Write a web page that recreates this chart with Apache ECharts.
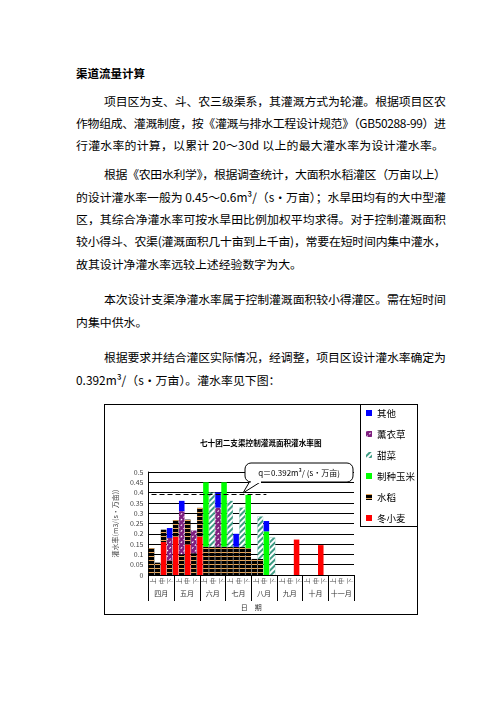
<!DOCTYPE html>
<html>
<head>
<meta charset="utf-8">
<script src="https://cdn.jsdelivr.net/npm/echarts@6/dist/echarts.min.js"></script>
<style>
body { margin: 0; width: 496px; height: 702px; position: relative; overflow: hidden; background: #fff; color: #000;
  font-family: "Noto Sans CJK SC", sans-serif; }
.ln { position: absolute; white-space: nowrap; font-size: 11.9px; line-height: 16px; }
.hd { font-weight: bold; font-size: 11.5px; }
#frame { position: absolute; left: 104px; top: 404px; width: 314px; height: 211px; border: 1px solid #000; box-sizing: border-box; }
#lgbox { position: absolute; left: 360px; top: 404px; width: 58px; height: 123px; border-left: 1px solid #000; border-bottom: 1px solid #000; box-sizing: border-box; }
#chart { position: absolute; left: 104px; top: 404px; width: 314px; height: 211px; }
</style>
</head>
<body>
<div class="ln hd" style="left:76px;top:65px">渠道流量计算</div>
<div class="ln" data-w="342" style="left:104px;top:93px">项目区为支、斗、农三级渠系，其灌溉方式为轮灌。根据项目区农</div>
<div class="ln" data-w="370" style="left:76px;top:115px">作物组成、灌溉制度，按《灌溉与排水工程设计规范》（GB50288-99）进</div>
<div class="ln" data-w="368" style="left:76px;top:137px">行灌水率的计算，以累计 20～30d 以上的最大灌水率为设计灌水率。</div>
<div class="ln" data-w="342" style="left:104px;top:166px">根据《农田水利学》，根据调查统计，大面积水稻灌区（万亩以上）</div>
<div class="ln" data-w="370" style="left:76px;top:189px">的设计灌水率一般为 0.45～0.6m³/（s·万亩）；水旱田均有的大中型灌</div>
<div class="ln" data-w="370" style="left:76px;top:211px">区，其综合净灌水率可按水旱田比例加权平均求得。对于控制灌溉面积</div>
<div class="ln" data-w="370" style="left:76px;top:233px">较小得斗、农渠(灌溉面积几十亩到上千亩)，常要在短时间内集中灌水，</div>
<div class="ln" style="left:76px;top:256px">故其设计净灌水率远较上述经验数字为大。</div>
<div class="ln" data-w="342" style="left:104px;top:291px">本次设计支渠净灌水率属于控制灌溉面积较小得灌区。需在短时间</div>
<div class="ln" style="left:76px;top:314px">内集中供水。</div>
<div class="ln" data-w="342" style="left:104px;top:349px">根据要求并结合灌区实际情况，经调整，项目区设计灌水率确定为</div>
<div class="ln" style="left:76px;top:372px">0.392m³/（s·万亩）。灌水率见下图：</div>

<div id="frame"></div>
<div id="lgbox"></div>
<div id="chart"></div>
<script>
// 两端对齐正文
document.querySelectorAll('.ln[data-w]').forEach(function (el) {
  var w = parseFloat(el.dataset.w);
  var n = el.textContent.length;
  var cur = el.getBoundingClientRect().width;
  el.style.letterSpacing = ((w - cur) / (n - 1)) + 'px';
});

// 横轴：灌水时段（柱位）、旬、月
var months = ['四月', '五月', '六月', '七月', '八月', '九月', '十月', '十一月'];
var xun = ['上', '中', '下'];
var slots = ['1', '2', '3', '4', '5', '6', '7', '8', '9', '10', '11', '12', '13', '14', '15', '16', '17',
  '18', '19', '20', '21', '22', '23', '24', '25', '26', '27', '28', '29', '30', '31', '32', '33', '34'];

// 各作物灌水率 m3/(s·万亩)
var wheat    = [0, 0, 0.16, 0, 0.186, 0, 0.149, 0, 0.186, 0, 0, 0, 0, 0, 0, 0, 0, 0, 0, 0, 0, 0, 0, 0, 0.172, 0, 0, 0, 0.145, 0, 0, 0, 0, 0];
var rice     = [0.13, 0.06, 0.06, 0.07, 0.08, 0.1, 0.12, 0.106, 0.14, 0.137, 0.137, 0.137, 0.137, 0.137, 0.137, 0.137, 0.13, 0.078, 0.078, 0, 0, 0, 0, 0, 0, 0, 0, 0, 0, 0, 0, 0, 0, 0];
var corn     = [0, 0, 0, 0, 0, 0, 0, 0, 0, 0.313, 0, 0, 0.313, 0, 0, 0, 0.259, 0, 0, 0.212, 0, 0, 0, 0, 0, 0, 0, 0, 0, 0, 0, 0, 0, 0];
var beet     = [0, 0, 0, 0, 0, 0, 0, 0, 0, 0, 0.263, 0, 0, 0.223, 0, 0.19, 0, 0, 0.206, 0, 0.182, 0, 0, 0, 0, 0, 0, 0, 0, 0, 0, 0, 0, 0];
var lavender = [0, 0, 0, 0.11, 0, 0.21, 0, 0.11, 0, 0, 0, 0.19, 0, 0, 0, 0, 0, 0, 0, 0, 0, 0, 0, 0, 0, 0, 0, 0, 0, 0, 0, 0, 0, 0];
var other    = [0, 0, 0, 0.048, 0, 0.05, 0, 0, 0, 0, 0, 0.074, 0, 0, 0.063, 0, 0, 0, 0, 0.05, 0, 0, 0, 0, 0, 0, 0, 0, 0, 0, 0, 0, 0, 0];
var designQ = 0.392;

var xunLabels = [];
months.forEach(function () { xun.forEach(function (x) { xunLabels.push(x); }); });

var font = '"Noto Sans CJK SC", sans-serif';

function bar(name, data, color, decal) {
  return {
    name: name, type: 'bar', stack: 'q', data: data, barCategoryGap: '8%',
    itemStyle: { color: color, decal: decal },
    emphasis: { disabled: true }
  };
}

var myChart = echarts.init(document.getElementById('chart'));
var option = {
  animation: false,
  textStyle: { fontFamily: font },
  title: {
    text: '七十团二支渠控制灌溉面积灌水率图',
    left: 91, top: 30,
    textStyle: { fontSize: 7.6, fontWeight: 'bold', color: '#000', fontFamily: font }
  },
  legend: {
    orient: 'vertical', left: 262, top: 2, padding: 0,
    itemWidth: 6, itemHeight: 6, itemGap: 7,
    icon: 'rect',
    textStyle: { fontSize: 9.5, lineHeight: 14, color: '#000', fontFamily: font },
    data: ['其他', '薰衣草', '甜菜', '制种玉米', '水稻', '冬小麦']
  },
  grid: { left: 39, right: 64, top: 68, bottom: 40 },
  xAxis: [{
    type: 'category', data: slots, show: false
  }, {
    type: 'category', data: xunLabels, position: 'bottom',
    axisLine: { lineStyle: { color: '#000' } },
    axisTick: { show: false },
    axisLabel: { interval: 0, rotate: 90, fontSize: 6, margin: 3, color: '#444' }
  }, {
    type: 'category', data: months, position: 'bottom',
    axisLine: { show: false },
    axisTick: { show: true, length: 26, interval: 0, lineStyle: { color: '#000' } },
    axisLabel: { interval: 0, fontSize: 7, margin: 15, color: '#333' },
    name: '日　期', nameLocation: 'middle', nameGap: 29,
    nameTextStyle: { fontSize: 7, color: '#333' }
  }],
  yAxis: {
    type: 'value', min: 0, max: 0.5, interval: 0.05,
    name: '灌水率(m3/(s·万亩))', nameLocation: 'middle', nameRotate: 90, nameGap: 24,
    nameTextStyle: { fontSize: 7, color: '#444' },
    axisLine: { show: true, lineStyle: { color: '#000' } },
    axisTick: { show: false },
    axisLabel: { fontSize: 7, color: '#444', margin: 5 },
    splitLine: { lineStyle: { color: '#000', width: 1 } }
  },
  series: [
    bar('冬小麦', wheat, '#ff0000'),
    bar('水稻', rice, '#000000', { symbol: 'rect', symbolSize: 1, color: '#e8a75a', dashArrayX: [1, 0], dashArrayY: [1, 2.5], rotation: 0 }),
    bar('制种玉米', corn, '#00ff00'),
    bar('甜菜', beet, '#3d9b83', { symbol: 'rect', symbolSize: 1, color: '#ffffff', dashArrayX: [1, 0], dashArrayY: [2, 2], rotation: -Math.PI / 4 }),
    bar('薰衣草', lavender, '#7f1f7f', { symbol: 'rect', symbolSize: 1, color: '#ffffff', dashArrayX: [2, 2], dashArrayY: [1, 3], rotation: -Math.PI / 4 }),
    Object.assign(bar('其他', other, '#0000ff'), {
      markLine: {
        silent: true, symbol: ['none', 'none'], label: { show: false },
        lineStyle: { color: '#000', type: [5, 3], width: 1 },
        data: [[{ coord: [0, designQ] }, { coord: [19, designQ] }]]
      }
    })
  ],
  graphic: [
    { type: 'polygon', z: 100, shape: { points: [[146, 77], [158, 77], [139, 89]] }, style: { fill: '#fff', stroke: '#000', lineWidth: 1 } },
    { type: 'rect', z: 101, shape: { x: 141, y: 59, width: 108, height: 19, r: 6 }, style: { fill: '#fff', stroke: '#000', lineWidth: 1 } },
    { type: 'rect', z: 102, shape: { x: 147, y: 77, width: 10, height: 2 }, style: { fill: '#fff' } },
    { type: 'text', z: 103, x: 195, y: 68.5,
      style: { text: 'q＝0.392m³/ (s·万亩)', fontSize: 8, fontFamily: font, fill: '#000',
        align: 'center', verticalAlign: 'middle', textAlign: 'center', textVerticalAlign: 'middle' } }
  ]
};
myChart.setOption(option);
</script>
</body>
</html>
